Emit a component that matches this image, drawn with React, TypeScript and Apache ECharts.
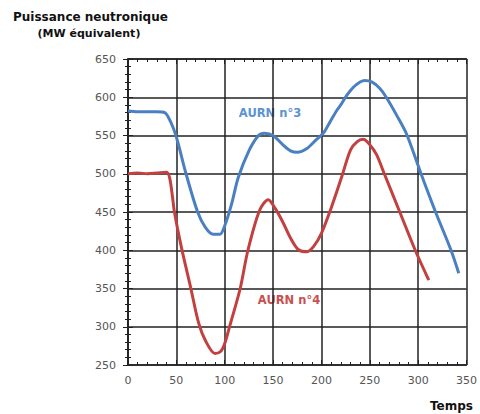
import React, { useEffect, useRef } from "react";
import * as echarts from "echarts";

const blueTime = [0, 10, 20, 30, 38, 44, 50, 60, 72, 80, 88, 95, 100, 107, 114, 125, 135, 141, 150, 160, 168, 175, 185, 195, 202, 209, 216, 220, 226, 233, 240, 245, 252, 260, 267, 278, 288, 303, 318, 334, 342];
const bluePower = [582, 581, 581, 581, 580, 568, 548, 500, 450, 430, 421, 421, 432, 460, 495, 530, 550, 553, 550, 538, 530, 528, 533, 545, 553, 568, 583, 590, 602, 613, 620, 622, 620, 612, 600, 576, 552, 500, 450, 400, 370];

const redTime = [0, 10, 20, 30, 40, 43, 46, 48, 55, 65, 73, 80, 90, 96, 100, 105, 116, 124, 136, 145, 152, 160, 168, 176, 185, 192, 200, 210, 221, 230, 237, 243, 250, 257, 265, 281, 297, 311];
const redPower = [500, 501, 500, 501, 502, 495, 470, 450, 405, 350, 305, 282, 265, 268, 278, 300, 350, 400, 452, 466, 455, 437, 416, 401, 398, 405, 422, 455, 496, 531, 542, 545, 538, 525, 500, 450, 400, 361];

const seriesNames = ["AURN n°3", "AURN n°4"];
const titleLines = ["Puissance neutronique", "(MW équivalent)"];
const xAxisName = "Temps";

const FONT = "DejaVu Sans";

export default function App() {
  const ref = useRef<HTMLDivElement>(null);
  useEffect(() => {
    if (!ref.current) return;
    const chart = echarts.init(ref.current, null, { renderer: "svg" });
    const gridColor = "#222";
    const tickCommon = {
      axisLine: { show: true, lineStyle: { color: gridColor, width: 1.5 } },
      axisTick: { show: true, inside: true, length: 5, lineStyle: { color: gridColor, width: 1 } },
      minorTick: { show: true, splitNumber: 5, length: 3, lineStyle: { color: gridColor, width: 1 } },
    };
    const xBase = { type: "value", min: 0, max: 350, interval: 50 };
    const yBase = { type: "value", min: 250, max: 650, interval: 50 };
    chart.setOption({
      animation: false,
      backgroundColor: "#fff",
      grid: { left: 128, right: 8, top: 59, bottom: 49 },
      xAxis: [
        {
          ...xBase,
          ...tickCommon,
          position: "bottom",
          splitLine: { show: true, lineStyle: { color: gridColor, width: 1.5 } },
          axisLabel: { color: "#555", fontSize: 11, fontFamily: FONT, margin: 10 },
        },
        {
          ...xBase,
          ...tickCommon,
          position: "top",
          splitLine: { show: false },
          axisLabel: { show: false },
        },
      ],
      yAxis: [
        {
          ...yBase,
          ...tickCommon,
          position: "left",
          splitLine: { show: true, lineStyle: { color: gridColor, width: 1.5 } },
          axisLabel: { color: "#555", fontSize: 11, fontFamily: FONT, margin: 12 },
        },
        {
          ...yBase,
          ...tickCommon,
          position: "right",
          splitLine: { show: false },
          axisLabel: { show: false },
        },
      ],
      series: [
        {
          name: seriesNames[0],
          type: "line",
          xAxisIndex: 0,
          yAxisIndex: 0,
          data: blueTime.map((t, i) => [t, bluePower[i]]),
          smooth: 0.3,
          showSymbol: false,
          lineStyle: { color: "#4a80c2", width: 3 },
        },
        {
          name: seriesNames[1],
          type: "line",
          xAxisIndex: 0,
          yAxisIndex: 0,
          data: redTime.map((t, i) => [t, redPower[i]]),
          smooth: 0.3,
          showSymbol: false,
          lineStyle: { color: "#c2403f", width: 3 },
        },
      ],
      graphic: [
        {
          type: "text",
          x: 13,
          y: 17,
          style: { text: titleLines[0], font: `bold 12px "${FONT}"`, fill: "#111", align: "left", verticalAlign: "middle" },
        },
        {
          type: "text",
          x: 89,
          y: 33,
          style: { text: titleLines[1], font: `bold 11px "${FONT}"`, fill: "#111", align: "center", verticalAlign: "middle" },
        },
        {
          type: "text",
          x: 270,
          y: 113,
          style: { text: seriesNames[0], font: `bold 11.5px "${FONT}"`, fill: "#5b93d3", align: "center", verticalAlign: "middle" },
        },
        {
          type: "text",
          x: 289,
          y: 300,
          style: { text: seriesNames[1], font: `bold 11.5px "${FONT}"`, fill: "#c9504e", align: "center", verticalAlign: "middle" },
        },
        {
          type: "text",
          x: 430,
          y: 406,
          style: { text: xAxisName, font: `bold 12px "${FONT}"`, fill: "#111", align: "left", verticalAlign: "middle" },
        },
      ],
    });
    return () => chart.dispose();
  }, []);
  return <div ref={ref} style={{ position: "absolute", left: 0, top: 0, width: 480, height: 414 }} />;
}
